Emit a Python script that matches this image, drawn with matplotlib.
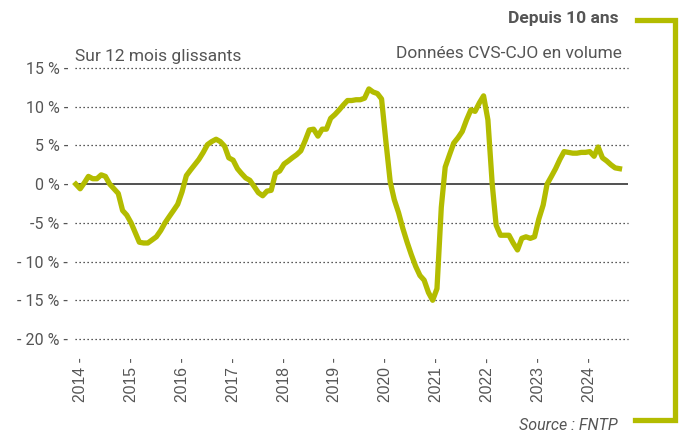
import matplotlib
matplotlib.use("Agg")
import matplotlib.pyplot as plt
import pandas as pd
from matplotlib.lines import Line2D

# Variation sur 12 mois glissants (%), mensuel, depuis déc. 2013
start_month = "2013-12-01"
values = [
    0.0, -0.6, 0.2, 1.0, 0.7, 0.7, 1.2, 1.0, 0.0, -0.6,
    -1.2, -3.4, -4.0, -5.0, -6.3, -7.5, -7.6, -7.6, -7.2, -6.8,
    -6.0, -5.0, -4.2, -3.4, -2.6, -1.0, 1.1, 1.8, 2.5, 3.2,
    4.1, 5.1, 5.5, 5.8, 5.5, 4.9, 3.4, 3.1, 2.0, 1.4,
    0.8, 0.5, -0.3, -1.1, -1.5, -0.9, -0.8, 1.4, 1.7, 2.6,
    3.0, 3.4, 3.8, 4.3, 5.6, 7.0, 7.1, 6.2, 7.1, 7.1,
    8.5, 9.0, 9.6, 10.2, 10.8, 10.8, 10.9, 10.9, 11.1, 12.3,
    11.9, 11.7, 11.0, 5.5, 0.3, -2.0, -3.7, -5.7, -7.5, -9.1,
    -10.6, -11.8, -12.4, -14.0, -15.0, -13.5, -3.0, 2.2, 3.8, 5.3,
    6.0, 6.8, 8.3, 9.6, 9.4, 10.5, 11.4, 8.3, 0.0, -5.3,
    -6.6, -6.6, -6.6, -7.6, -8.5, -7.0, -6.8, -7.0, -6.8, -4.5,
    -2.7, 0.0, 1.0, 2.0, 3.2, 4.2, 4.1, 4.0, 4.0, 4.1,
    4.1, 4.2, 3.6, 4.8, 3.4, 3.0, 2.5, 2.1, 2.0,
]
years = list(range(2014, 2025))
y_ticks = [-20, -15, -10, -5, 0, 5, 10, 15]
y_labels = ["- 20 %", "- 15 %", "- 10 %", "-5 %", "0 %", "5 %", "10 %", "15 %"]

green = "#b3bc00"
grey = "#555555"
narrow = ["Roboto", "DejaVu Sans"]

dates = pd.date_range(start_month, periods=len(values), freq="MS")

fig = plt.figure(figsize=(6.83, 4.33), dpi=100)
ax = fig.add_axes([75 / 683, 1 - 339 / 433, 553 / 683, 271 / 433])

ax.plot(dates, values, color=green, lw=3.8, solid_joinstyle="round", zorder=3, clip_on=False)
ax.axhline(0, color="#333333", lw=1.2, zorder=2)
for t in y_ticks:
    if t != 0:
        ax.axhline(t, color="#222222", lw=0.9, ls=(0, (1, 2.2)), zorder=1, clip_on=False)

ax.set_ylim(-20, 15)
ax.set_xlim(pd.Timestamp("2013-11-25"), pd.Timestamp("2024-10-01"))
for s in ax.spines.values():
    s.set_visible(False)

ax.set_yticks(y_ticks)
ax.set_yticklabels([l + " -" for l in y_labels], family=narrow, fontsize=11.5, color=grey)
ax.set_xticks([pd.Timestamp(f"{y}-01-01") for y in years])
ax.set_xticklabels([f"{y} -" for y in years], rotation=90, fontsize=11.3, color=grey,
                   family=["Liberation Sans", "DejaVu Sans"])
ax.tick_params(axis="both", length=0)
ax.tick_params(axis="y", pad=5)
ax.tick_params(axis="x", pad=13)

fig.text(75 / 683, 1 - 57 / 433, "Sur 12 mois glissants", family=narrow, fontsize=12.5,
         color=grey, va="center", ha="left")
fig.text(622 / 683, 1 - 54 / 433, "Données CVS-CJO en volume", family=narrow, fontsize=12.5,
         color=grey, va="center", ha="right")
fig.text(618 / 683, 1 - 19 / 433, "Depuis 10 ans", family=narrow, fontsize=12.5,
         fontweight="bold", color=grey, va="center", ha="right")
fig.text(618 / 683, 1 - 425 / 433, "Source : FNTP", family=narrow, fontsize=11.5,
         style="italic", color=grey, va="center", ha="right")

# bracket on the right
bx = [637 / 683, 675 / 683, 675 / 683, 635 / 683]
by = [1 - 20 / 433, 1 - 20 / 433, 1 - 420 / 433, 1 - 420 / 433]
fig.add_artist(Line2D(bx, by, color=green, lw=3.8, solid_joinstyle="miter"))

fig.savefig("out.png", dpi=100)
